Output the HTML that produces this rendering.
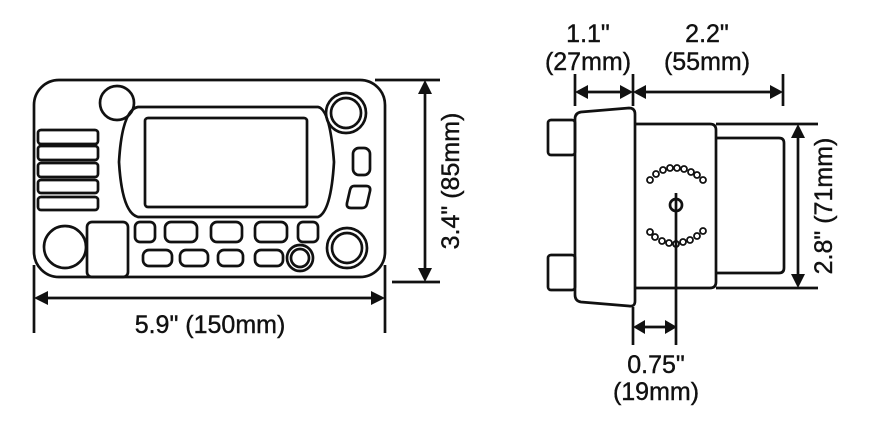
<!DOCTYPE html>
<html><head><style>html,body{margin:0;padding:0;background:#fff}svg{display:block}</style></head><body>
<svg width="883" height="430" viewBox="0 0 883 430" xmlns="http://www.w3.org/2000/svg">
<g fill="none" stroke="#111" stroke-width="2.7">
<rect x="34" y="80" width="351" height="197" rx="25"/>
<circle cx="117" cy="103" r="17"/>
<path d="M138 107 L318 107 Q330 109 334 162 Q331 212 318 217 L138 217 Q122 213 119 162 Q122 110 138 107 Z"/>
<rect x="145" y="118" width="162" height="89" rx="3"/>
<rect x="38" y="130" width="60" height="14" rx="3"/>
<rect x="38" y="146" width="60" height="14" rx="3"/>
<rect x="38" y="163" width="60" height="14" rx="3"/>
<rect x="38" y="180" width="60" height="13" rx="3"/>
<rect x="38" y="197" width="60" height="13" rx="3"/>
<circle cx="65" cy="247" r="21"/>
<rect x="87" y="222" width="41" height="55" rx="5"/>
<rect x="135" y="222" width="20" height="20" rx="5"/>
<rect x="165" y="222" width="32" height="20" rx="6"/>
<rect x="211" y="222" width="31" height="20" rx="6"/>
<rect x="255" y="222" width="32" height="20" rx="6"/>
<rect x="298" y="222" width="20" height="20" rx="5"/>
<rect x="143" y="250" width="29" height="16" rx="6"/>
<rect x="180" y="250" width="28" height="16" rx="6"/>
<rect x="218" y="250" width="25" height="16" rx="6"/>
<rect x="255" y="250" width="28" height="16" rx="6"/>
<circle cx="300" cy="258" r="13"/><circle cx="300" cy="258" r="9"/>
<circle cx="346" cy="113" r="20"/><circle cx="346" cy="113" r="15"/>
<circle cx="347" cy="248" r="20"/><circle cx="347" cy="248" r="15"/>
<rect x="353" y="148" width="17" height="27" rx="6"/>
<path d="M354 186 L366 186 Q371 186 370 191 L367 204 Q366 208 362 208 L351 208 Q346 208 347 203 L350 190 Q351 186 354 186 Z"/>
<line x1="34" y1="265" x2="34" y2="333"/>
<line x1="385" y1="265" x2="385" y2="333"/>
<line x1="375" y1="80" x2="440" y2="80"/>
<line x1="392" y1="282" x2="440" y2="282"/>
<line x1="40" y1="298" x2="379" y2="298"/>
<line x1="425" y1="86" x2="425" y2="276"/>
<rect x="548" y="120" width="27" height="35" rx="3"/>
<rect x="548" y="255" width="27" height="35" rx="3"/>
<path d="M581 112 L629 108 Q635 108 635 114 L635 301 Q635 307 629 306 L581 302 Q575 301 575 295 L575 119 Q575 113 581 112 Z"/>
<path d="M635 124 L710 124 Q716 124 716 130 L716 282 Q716 288 710 288 L635 288"/>
<path d="M716 138 L779 138 Q784 138 784 143 L784 268 Q784 273 779 273 L716 273"/>
<line x1="716" y1="124" x2="818" y2="124"/>
<line x1="716" y1="288" x2="818" y2="288"/>
<line x1="798" y1="130" x2="798" y2="282"/>
<circle cx="676" cy="205" r="6"/>
<line x1="676" y1="193" x2="676" y2="345"/>
<line x1="575" y1="74" x2="575" y2="106"/>
<line x1="633" y1="74" x2="633" y2="106"/>
<line x1="783" y1="74" x2="783" y2="106"/>
<line x1="580" y1="92" x2="628" y2="92"/>
<line x1="638" y1="92" x2="778" y2="92"/>
<line x1="633" y1="307" x2="633" y2="345"/>
<line x1="638" y1="327" x2="671" y2="327"/>
</g>
<g fill="none" stroke="#111" stroke-width="1.8">
<circle cx="650" cy="180" r="3"/><circle cx="656" cy="174" r="3"/><circle cx="663" cy="170" r="3"/><circle cx="670" cy="168" r="3"/><circle cx="677" cy="168" r="3"/><circle cx="684" cy="169" r="3"/><circle cx="691" cy="172" r="3"/><circle cx="697" cy="175" r="3"/><circle cx="703" cy="180" r="3"/>
<circle cx="650" cy="232" r="3"/><circle cx="655" cy="237" r="3"/><circle cx="662" cy="241" r="3"/><circle cx="669" cy="243" r="3"/><circle cx="676" cy="244" r="3"/><circle cx="683" cy="242" r="3"/><circle cx="690" cy="240" r="3"/><circle cx="697" cy="236" r="3"/><circle cx="703" cy="231" r="3"/>
</g>
<g fill="#111">
<path d="M34 298 L48 291 L48 305 Z"/><path d="M385 298 L371 291 L371 305 Z"/>
<path d="M425 80 L418 94 L432 94 Z"/><path d="M425 282 L418 268 L432 268 Z"/>
<path d="M575 92 L588 85 L588 99 Z"/><path d="M633 92 L620 85 L620 99 Z"/>
<path d="M633 92 L646 85 L646 99 Z"/><path d="M783 92 L770 85 L770 99 Z"/>
<path d="M798 124 L791 138 L805 138 Z"/><path d="M798 288 L791 274 L805 274 Z"/>
<path d="M633 327 L645 320 L645 334 Z"/><path d="M677 327 L665 320 L665 334 Z"/>
</g>
<g font-family="Liberation Sans, sans-serif" font-size="25" fill="#111" text-anchor="middle" stroke="#111" stroke-width="0.4">
<text x="210" y="333">5.9" (150mm)</text>
<text transform="translate(459 181) rotate(-90)">3.4" (85mm)</text>
<text transform="translate(832 206) rotate(-90)">2.8" (71mm)</text>
<text x="588" y="42">1.1"</text>
<text x="588" y="70">(27mm)</text>
<text x="707" y="42">2.2"</text>
<text x="707" y="70">(55mm)</text>
<text x="656" y="373">0.75"</text>
<text x="656" y="400">(19mm)</text>
</g>
</svg>
</body></html>
